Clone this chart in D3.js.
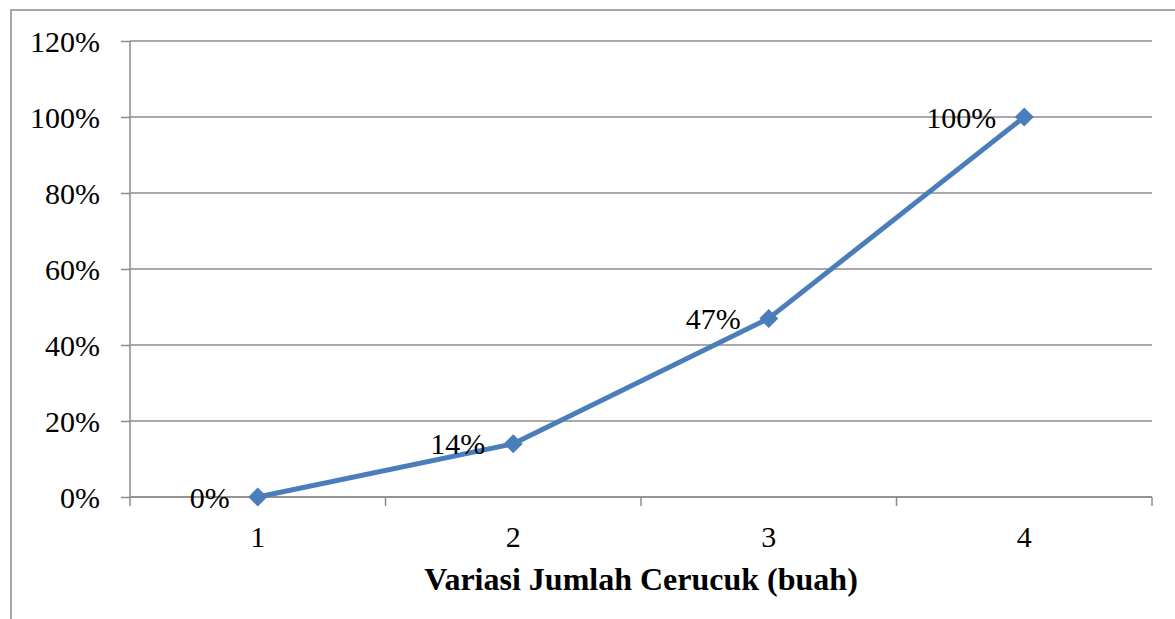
<!DOCTYPE html>
<html>
<head>
<meta charset="utf-8">
<script src="https://cdn.jsdelivr.net/npm/d3@7"></script>
<style>
	body { margin: 0; background: #fff; }
	svg text { font-family: "Liberation Serif", "Times New Roman", serif; fill: #000; }
	.grid line { stroke: #8c8c8c; stroke-width: 1.5; }
	.axis path, .axis line { stroke: #8c8c8c; stroke-width: 1.5; }
</style>
</head>
<body>
<svg id="chart" width="1175" height="619"></svg>
<script>
// data
var categories = ["1", "2", "3", "4"];
var values = [0, 0.14, 0.47, 1.00];
var labels = ["0%", "14%", "47%", "100%"];
var yTicks = [0, 0.2, 0.4, 0.6, 0.8, 1.0, 1.2];

var svg = d3.select("#chart");
var plotLeft = 130, plotRight = 1152, plotTop = 41, plotBottom = 497;

// outer frame
svg.append("rect")
	.attr("x", 11).attr("y", 10)
	.attr("width", 1200).attr("height", 700)
	.attr("fill", "none")
	.attr("stroke", "#8c8c8c")
	.attr("stroke-width", 1.5);

var x = d3.scaleBand().domain(categories).range([plotLeft, plotRight]);
var y = d3.scaleLinear().domain([0, 1.2]).range([plotBottom, plotTop]);

// horizontal gridlines
svg.append("g").attr("class", "grid")
	.selectAll("line").data(yTicks).enter().append("line")
	.attr("x1", plotLeft).attr("x2", plotRight)
	.attr("y1", function(d) { return y(d); })
	.attr("y2", function(d) { return y(d); });

// y axis
var yAxis = svg.append("g").attr("class", "axis")
	.attr("transform", "translate(" + plotLeft + ",0)")
	.call(d3.axisLeft(y).tickValues(yTicks).tickSize(9).tickPadding(21)
		.tickFormat(function(d) { return Math.round(d * 100) + "%"; }));
yAxis.select(".domain").attr("d", "M0," + plotTop + "V" + plotBottom);
yAxis.selectAll("text").style("font-size", "30px").attr("dy", "0.35em");

// x axis with ticks between categories
var xAxis = svg.append("g").attr("class", "axis")
	.attr("transform", "translate(0," + plotBottom + ")");
xAxis.append("line").attr("x1", plotLeft).attr("x2", plotRight);
var bounds = [plotLeft].concat(categories.map(function(c) { return x(c) + x.bandwidth(); }));
xAxis.selectAll(".tk").data(bounds).enter().append("line")
	.attr("x1", function(d) { return d; }).attr("x2", function(d) { return d; })
	.attr("y1", 0).attr("y2", 9);
xAxis.selectAll(".lbl").data(categories).enter().append("text")
	.attr("x", function(d) { return x(d) + x.bandwidth() / 2; })
	.attr("y", 50)
	.attr("text-anchor", "middle")
	.style("font-size", "30px")
	.text(function(d) { return d; });

// axis title
svg.append("text")
	.attr("x", (plotLeft + plotRight) / 2).attr("y", 590)
	.attr("text-anchor", "middle")
	.style("font-size", "32px").style("font-weight", "bold")
	.text("Variasi Jumlah Cerucuk (buah)");

var cx = function(d, i) { return x(categories[i]) + x.bandwidth() / 2; };

// series line
var line = d3.line().x(cx).y(function(d) { return y(d); });
svg.append("path").datum(values)
	.attr("d", line)
	.attr("fill", "none")
	.attr("stroke", "#4a7ebb")
	.attr("stroke-width", 5)
	.attr("stroke-linejoin", "round");

// diamond markers
svg.selectAll(".mk").data(values).enter().append("path")
	.attr("d", d3.symbol().type(d3.symbolSquare).size(180))
	.attr("transform", function(d, i) { return "translate(" + cx(d, i) + "," + y(d) + ") rotate(45)"; })
	.attr("fill", "#4a7ebb");

// data labels
svg.selectAll(".dl").data(values).enter().append("text")
	.attr("x", function(d, i) { return cx(d, i) - 28; })
	.attr("y", function(d) { return y(d); })
	.attr("dy", "0.35em")
	.attr("text-anchor", "end")
	.style("font-size", "30px")
	.text(function(d, i) { return labels[i]; });
</script>
</body>
</html>
